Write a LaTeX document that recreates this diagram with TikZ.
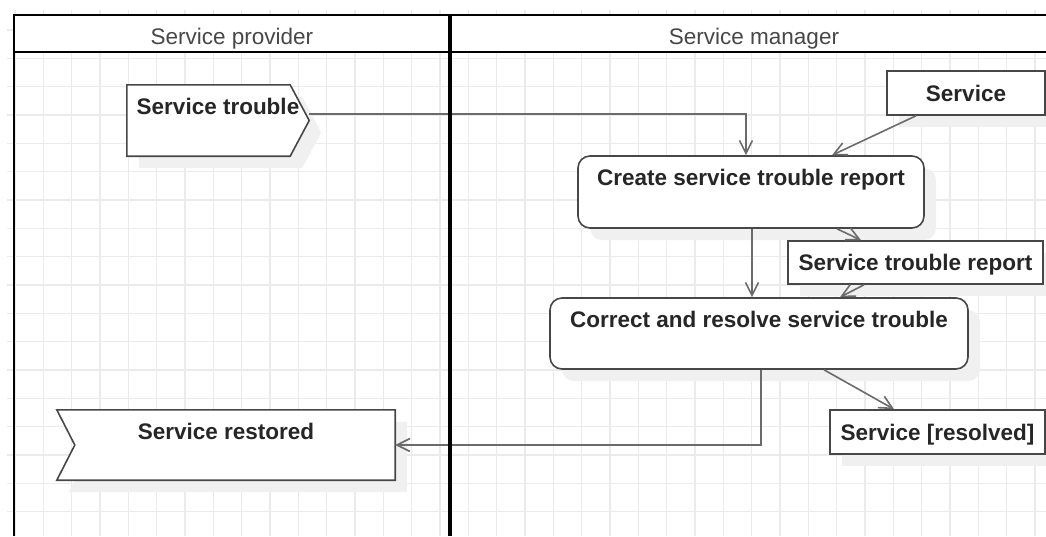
\documentclass[tikz,border=0pt]{standalone}
\usepackage{fontspec}
\setmainfont{Liberation Sans}
\usetikzlibrary{arrows.meta,shadows}
\pgfdeclarelayer{gridlayer}
\pgfdeclarelayer{backlayer}
\pgfsetlayers{gridlayer,backlayer,main}
\begin{document}
\begin{tikzpicture}[x=1pt,y=-1pt,
  bigfont/.style={font=\fontsize{22.5}{27}\selectfont},
  gridline/.style={draw=black!8, line width=1.2pt},
  poolline/.style={draw=black, line width=2.7pt},
  lanediv/.style={draw=black, line width=4.5pt},
  lanehead/.style={bigfont, text=black!72, inner sep=0pt, anchor=base},
  boxtext/.style={font=\bfseries\fontsize{22.5}{27}\selectfont, text=black!85},
  outline/.style={draw=black!72, line width=1.6pt, fill=white},
  softshadow/.style={fill=black!6, draw=none},
  dshadow/.style={drop shadow={shadow xshift=12pt, shadow yshift=-12pt, fill=black!6, opacity=1, draw=none}},
  objbox/.style={outline, dshadow, boxtext, inner sep=0pt, text height=16pt, text depth=0pt},
  actbox/.style={outline, dshadow, rounded corners=12pt, inner sep=0pt},
  sigbox/.style={inner sep=0pt, draw=none},
  toplabel/.style={anchor=north, yshift=-13.5pt, inner sep=0pt, draw=none, fill=none, boxtext},
  conn/.style={draw=black!58, line width=1.6pt, -{Straight Barb[length=13pt, width=13pt]}},
]
\useasboundingbox (0,0) rectangle (1046,536);

\begin{pgfonlayer}{gridlayer}
\foreach \k in {0,...,36} \draw[gridline] ({15+28.333*\k},10) -- ({15+28.333*\k},536);
\foreach \k in {1,...,18} \draw[gridline] (7,{1.7+28.333*\k}) -- (1046,{1.7+28.333*\k});
\fill[white] (14,15) rectangle (1046,52);
\end{pgfonlayer}

\node[lanehead] (hp) at (232,44.3) {Service provider};
\node[lanehead] (hm) at (754,44.3) {Service manager};

\node[sigbox, minimum width=182pt, minimum height=71pt, label={[toplabel]north:Service trouble}] (st) at (218,120.5) {};
\node[objbox, minimum width=158pt, minimum height=44pt] (svc) at (966,93) {Service};
\node[actbox, minimum width=346pt, minimum height=72pt, label={[toplabel]north:Create service trouble report}] (cr) at (751,192) {};
\node[objbox, minimum width=255pt, minimum height=43pt] (str) at (915.5,262.5) {Service trouble report};
\node[actbox, minimum width=418pt, minimum height=71pt, label={[toplabel]north:Correct and resolve service trouble}] (co) at (759,333.5) {};
\node[objbox, minimum width=215pt, minimum height=44pt] (sr) at (937.5,432) {Service [resolved]};
\node[sigbox, minimum width=338pt, minimum height=70pt, label={[toplabel]north:Service restored}] (rest) at (226,445) {};

\begin{pgfonlayer}{backlayer}
\fill[softshadow] ([shift={(12,12)}]st.north west) -- ([shift={(-7,12)}]st.north east) -- ([shift={(12,12)}]st.east) -- ([shift={(-7,12)}]st.south east) -- ([shift={(12,12)}]st.south west) -- cycle;
\draw[outline] (st.north west) -- ([xshift=-19pt]st.north east) -- (st.east) -- ([xshift=-19pt]st.south east) -- (st.south west) -- cycle;
\fill[softshadow] ([shift={(12,12)}]rest.north west) -- ([shift={(12,12)}]rest.north east) -- ([shift={(12,12)}]rest.south east) -- ([shift={(12,12)}]rest.south west) -- ([shift={(30,12)}]rest.west) -- cycle;
\draw[outline] (rest.north west) -- (rest.north east) -- (rest.south east) -- (rest.south west) -- ([xshift=18pt]rest.west) -- cycle;
\end{pgfonlayer}

\draw[conn] ([yshift=6.5pt]st.east) -| ([xshift=-5pt]cr.north);
\draw[conn] ([xshift=-50pt]svc.south) -- ([xshift=81pt]cr.north);
\draw[conn] ([xshift=1pt]cr.south) -- ([xshift=-7pt]co.north);
\draw[conn] ([xshift=86pt]cr.south) -- ([xshift=-54.5pt]str.north);
\draw[conn] ([xshift=-51.5pt]str.south) -- ([xshift=81pt]co.north);
\draw[conn] ([xshift=65pt]co.south) -- ([xshift=-43.5pt]sr.north);
\draw[conn] ([xshift=2pt]co.south) |- (rest.east);

\draw[poolline] (14,536) -- (14,15) -- (1046,15);
\draw[poolline] (14,52) -- (1046,52);
\draw[lanediv] (450,15) -- (450,536);
\end{tikzpicture}
\end{document}
